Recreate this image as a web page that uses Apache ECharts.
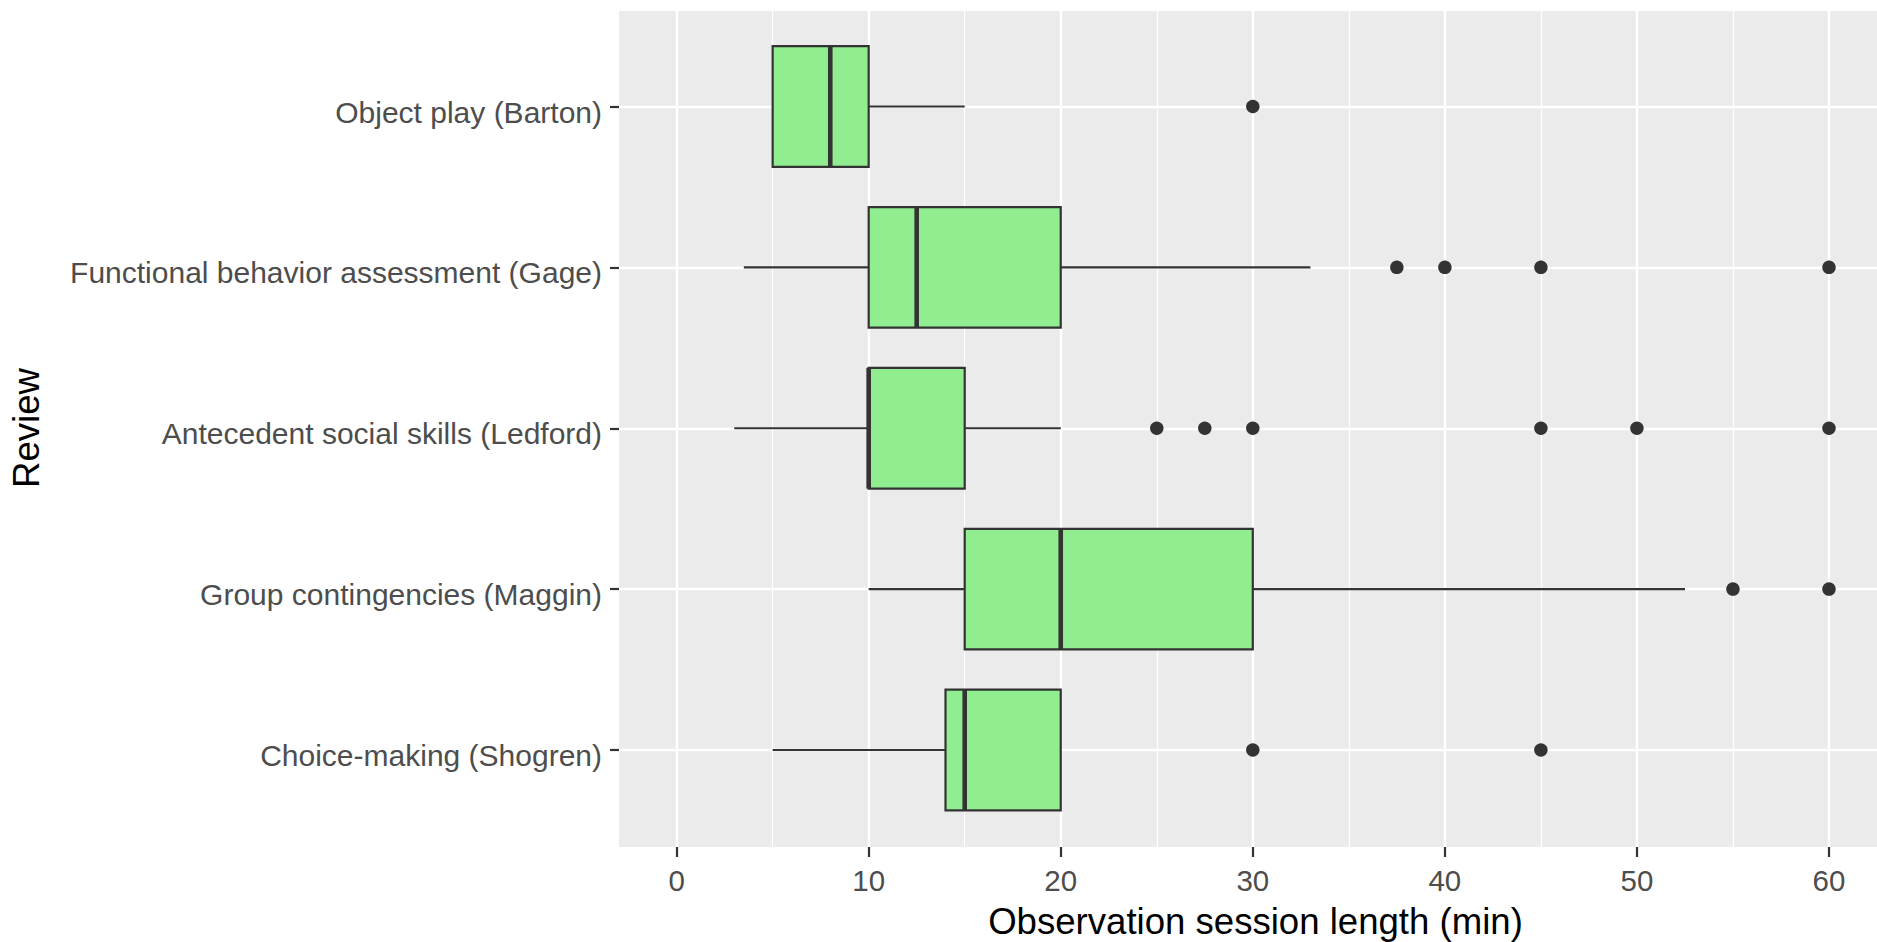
<!DOCTYPE html>
<html>
<head>
<meta charset="utf-8">
<script src="https://cdn.jsdelivr.net/npm/echarts@6/dist/echarts.min.js"></script>
<style>
  html, body { margin: 0; padding: 0; background: #ffffff; }
  #chart { width: 1877px; height: 942px; }
</style>
</head>
<body>
<div id="chart"></div>
<script>
// ---- data ----
const categories = [
  'Object play (Barton)',
  'Functional behavior assessment (Gage)',
  'Antecedent social skills (Ledford)',
  'Group contingencies (Maggin)',
  'Choice-making (Shogren)'
];
const lowerWhisker = [5, 3.5, 3, 10, 5];
const q1Values     = [5, 10, 10, 15, 14];
const medianValues = [8, 12.5, 10, 20, 15];
const q3Values     = [10, 20, 15, 30, 20];
const upperWhisker = [15, 33, 20, 52.5, 20];
const outlierValues = [
  [30],
  [37.5, 40, 45, 60],
  [25, 27.5, 30, 45, 50, 60],
  [55, 60],
  [30, 45]
];
const xTickMin = 0, xTickMax = 60, xTickStep = 10;
const xTitle = 'Observation session length (min)';
const yTitle = 'Review';

// ---- build ----
const boxData = categories.map((c, i) => [i, lowerWhisker[i], q1Values[i], medianValues[i], q3Values[i], upperWhisker[i]]);
const outlierData = [];
outlierValues.forEach((arr, i) => arr.forEach(v => outlierData.push([v, i])));

const FONT = "'Liberation Sans', Arial, Helvetica, sans-serif";
const INK = '#333333';

const chart = echarts.init(document.getElementById('chart'), null, { renderer: 'svg' });
chart.setOption({
  backgroundColor: '#ffffff',
  animation: false,
  graphic: {
    elements: [
      { type: 'rect', z: -10, silent: true,
        shape: { x: 619, y: 11, width: 1258, height: 836 },
        style: { fill: '#EBEBEB' } },
      { type: 'text', x: 1255.5, y: 921.5, silent: true,
        style: { text: xTitle, fill: '#000000', font: "36.6px " + FONT, align: 'center', verticalAlign: 'middle' } },
      { type: 'text', x: 26, y: 428, rotation: Math.PI / 2, silent: true,
        style: { text: yTitle, fill: '#000000', font: "36.6px " + FONT, align: 'center', verticalAlign: 'middle' } }
    ]
  },
  grid: [
    { left: 676.6, right: 48, top: 11, bottom: 95, containLabel: false },
    { left: 619, right: 0, top: 106.5, bottom: 192, containLabel: false }
  ],
  xAxis: [
    {
      gridIndex: 0, type: 'value', min: xTickMin, max: xTickMax, interval: xTickStep,
      axisLine: { show: false },
      axisTick: { show: true, length: 10, lineStyle: { color: INK, width: 2.2 } },
      axisLabel: { color: '#4D4D4D', fontSize: 29.5, fontFamily: FONT, margin: 18 },
      splitLine: { show: true, lineStyle: { color: '#ffffff', width: 2.4 } },
      minorTick: { show: false, splitNumber: 2 },
      minorSplitLine: { show: true, lineStyle: { color: '#ffffff', width: 1.2 } }
    },
    {
      gridIndex: 1, type: 'value', min: -3, max: 62.5, show: false,
      axisLine: { onZero: false },
      splitLine: { show: false }
    }
  ],
  yAxis: [
    { gridIndex: 0, type: 'value', show: false, axisLine: { onZero: false }, splitLine: { show: false } },
    {
      gridIndex: 1, type: 'category', data: categories, inverse: true, boundaryGap: false,
      axisLine: { show: false, onZero: false },
      axisTick: { show: true, length: 9, lineStyle: { color: INK, width: 2.2 } },
      axisLabel: {
        margin: 17,
        formatter: function (v) { return '{l|' + v + '}'; },
        rich: { l: { color: '#4D4D4D', fontSize: 30, fontFamily: FONT, padding: [11, 0, 0, 0] } }
      },
      splitLine: { show: true, lineStyle: { color: '#ffffff', width: 2.4 } }
    }
  ],
  series: [
    {
      type: 'custom', xAxisIndex: 1, yAxisIndex: 1, z: 5,
      encode: { x: [1, 2, 3, 4, 5], y: 0 },
      data: boxData,
      renderItem: function (params, api) {
        const idx = api.value(0);
        const pLo = api.coord([api.value(1), idx]);
        const pQ1 = api.coord([api.value(2), idx]);
        const pMed = api.coord([api.value(3), idx]);
        const pQ3 = api.coord([api.value(4), idx]);
        const pHi = api.coord([api.value(5), idx]);
        const band = api.size([0, 1])[1];
        const h = band * 0.75;
        const y = pQ1[1];
        return {
          type: 'group',
          children: [
            { type: 'line', shape: { x1: pLo[0], y1: y, x2: pQ1[0], y2: y }, style: { stroke: INK, lineWidth: 2.2 } },
            { type: 'line', shape: { x1: pQ3[0], y1: y, x2: pHi[0], y2: y }, style: { stroke: INK, lineWidth: 2.2 } },
            { type: 'rect', shape: { x: pQ1[0], y: y - h / 2, width: pQ3[0] - pQ1[0], height: h },
              style: { fill: '#90EE90', stroke: INK, lineWidth: 2.2 } },
            { type: 'line', shape: { x1: pMed[0], y1: y - h / 2, x2: pMed[0], y2: y + h / 2 },
              style: { stroke: INK, lineWidth: 4.6 } }
          ]
        };
      }
    },
    {
      type: 'scatter', xAxisIndex: 1, yAxisIndex: 1, z: 6,
      symbol: 'circle', symbolSize: 13.5,
      itemStyle: { color: INK, opacity: 1 },
      data: outlierData
    }
  ]
});
</script>
</body>
</html>
